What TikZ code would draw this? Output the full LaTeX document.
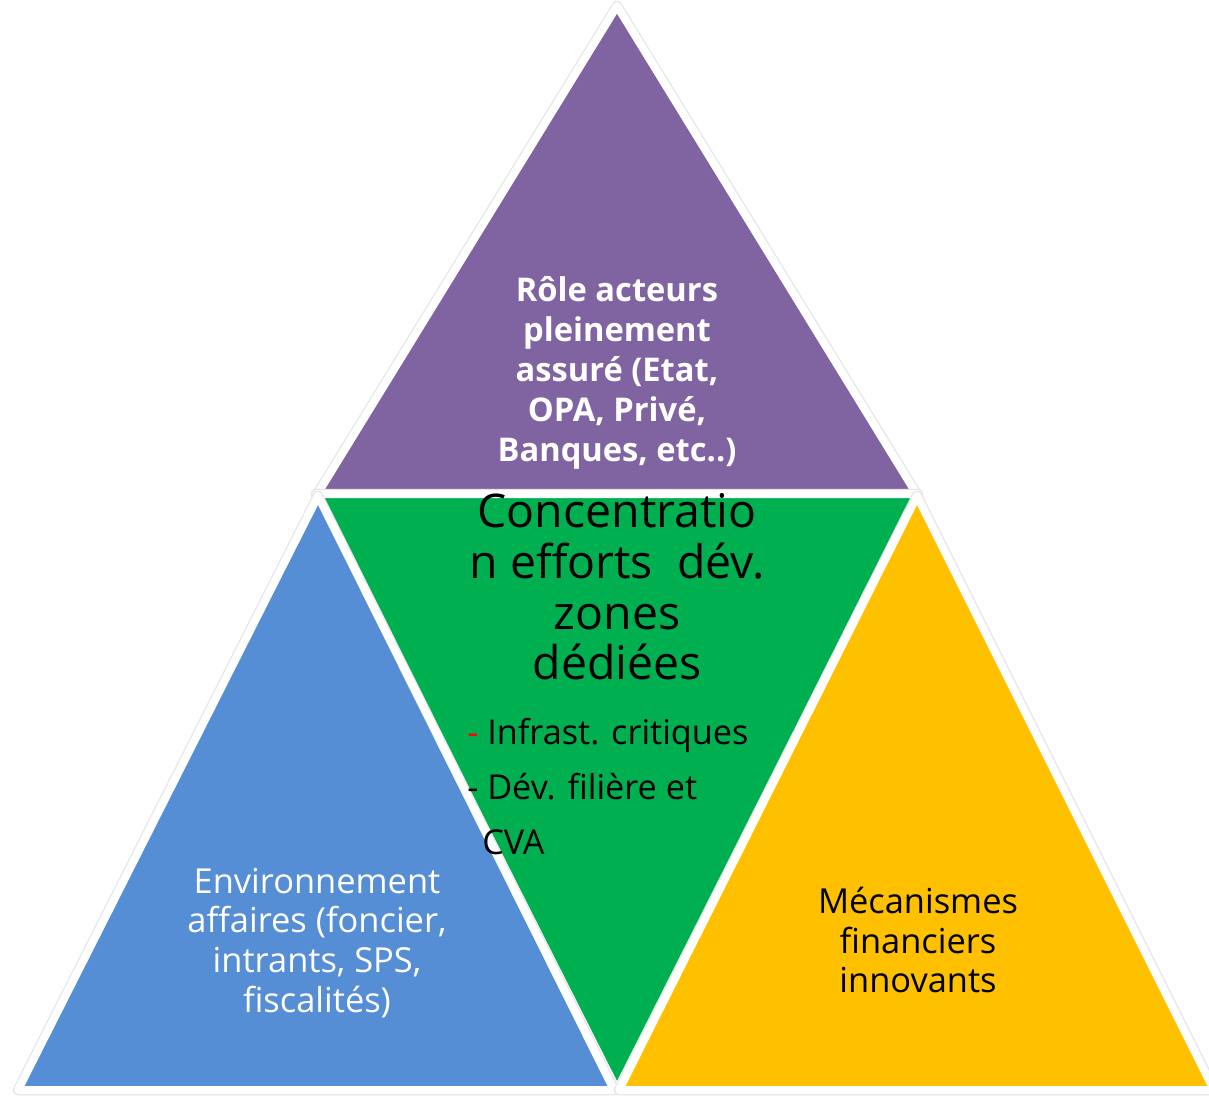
\documentclass[tikz,border=0pt]{standalone}
\usepackage{fontspec}
\setmainfont{Open Sans}
\usepackage{xcolor}
\definecolor{roleviolet}{HTML}{8064A2}
\definecolor{zonegreen}{HTML}{00B050}
\definecolor{envblue}{HTML}{558ED5}
\definecolor{finyellow}{HTML}{FFC000}
\tikzset{
    tri/.style={
        draw=white, line width=0.16cm,
        line join=round
    },
    trishadow/.style={
        draw=black!10, line width=0.21cm,
        line join=round
    },
    label/.style={
        align=center, inner sep=0pt,
        font=\fontsize{19.6}{22.7}\selectfont
    }
}

\begin{document}
\begin{tikzpicture}[x=0.02cm, y=-0.02cm]

        \useasboundingbox (0,0) rectangle (1209,1095);

        % Corners of the four triangles
        \coordinate (topA) at (617,6);
        \coordinate (topL) at (318,493);
        \coordinate (topR) at (916,493);
        \coordinate (midL) at (316,494);
        \coordinate (midR) at (918,494);
        \coordinate (midB) at (617,1090);
        \coordinate (leftA) at (318,496);
        \coordinate (leftL) at (18,1090);
        \coordinate (leftR) at (614,1090);
        \coordinate (rightA) at (917,496);
        \coordinate (rightL) at (619,1090);
        \coordinate (rightR) at (1214,1090);

        % Triangles
        \draw[trishadow] (topA) -- (topL) -- (topR) -- cycle;
        \filldraw[tri, fill=roleviolet] (topA) -- (topL) -- (topR) -- cycle;
        \draw[trishadow] (midL) -- (midR) -- (midB) -- cycle;
        \filldraw[tri, fill=zonegreen] (midL) -- (midR) -- (midB) -- cycle;
        \draw[trishadow] (leftA) -- (leftL) -- (leftR) -- cycle;
        \filldraw[tri, fill=envblue] (leftA) -- (leftL) -- (leftR) -- cycle;
        \draw[trishadow] (rightA) -- (rightL) -- (rightR) -- cycle;
        \filldraw[tri, fill=finyellow] (rightA) -- (rightL) -- (rightR) -- cycle;

        % Texts
        \node[label, text=white, font=\bfseries\fontsize{18.6}{22.7}\selectfont] (role) at (617,373)
            {R\^ole acteurs\\pleinement\\assur\'e (Etat,\\OPA, Priv\'e,\\Banques, etc..)};
        \node[label, font=\fontsize{26.4}{28.9}\selectfont] (zones) at (617,587)
            {Concentratio\\n efforts~ d\'ev.\\zones\\d\'edi\'ees};
        \node[label, align=left, anchor=north west, font=\fontsize{19.5}{31.2}\selectfont] (infra) at (467,718)
            {\textcolor{red}{-} Infrast. critiques\\- D\'ev. fili\`ere et\\\hspace{0.3cm}CVA};
        \node[label, text=white] (env) at (317,943)
            {Environnement\\affaires (foncier,\\intrants, SPS,\\fiscalit\'es)};
        \node[label] (fin) at (918,940)
            {M\'ecanismes\\financiers\\innovants};

    \end{tikzpicture}
\end{document}
